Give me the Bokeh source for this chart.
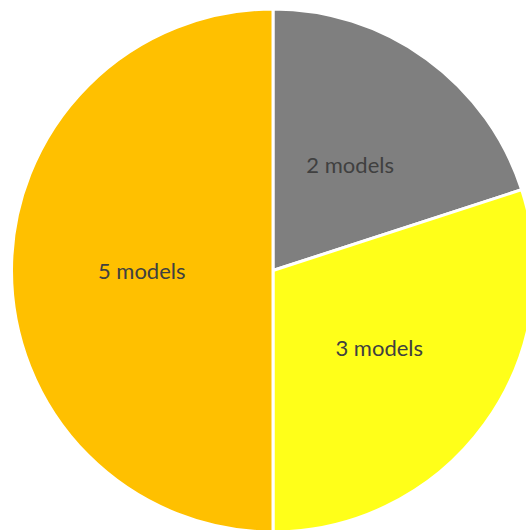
import math
from bokeh.plotting import figure
from bokeh.models import ColumnDataSource, Range1d
from bokeh.core.properties import value
from bokeh.embed import file_html
from bokeh.resources import INLINE

labels = ["2 models", "3 models", "5 models"]
counts = [2, 3, 5]
colors = ["#7F7F7F", "#FFFF19", "#FFC000"]

W, H = 526, 530
cx, cy = 272.5, H - 270
R = 261.5

total = sum(counts)
starts, ends, lx, ly = [], [], [], []
a = math.pi / 2
for c in counts:
    span = 2 * math.pi * c / total
    s, e = a, a - span
    starts.append(s)
    ends.append(e)
    mid = (s + e) / 2
    lx.append(cx + 0.505 * 260 * math.cos(mid))
    ly.append(cy + 0.505 * 260 * math.sin(mid))
    a = e

src = ColumnDataSource(dict(start=starts, end=ends, color=colors,
                            label=labels, lx=lx, ly=ly))

p = figure(width=W, height=H, output_backend="svg", toolbar_location=None,
           x_range=Range1d(0, W), y_range=Range1d(0, H), min_border=0)
p.axis.visible = False
p.grid.visible = False
p.outline_line_color = None
p.background_fill_color = "white"

p.wedge(x=cx, y=cy, radius=R, start_angle="start", end_angle="end",
        direction="clock", fill_color="color", line_color="white",
        line_width=3, source=src)
p.text(x="lx", y="ly", text="label", source=src, text_align="center",
       text_baseline="middle", text_font=value("Lato"),
       text_font_size="22px", text_color="#404040")

open("out.html", "w").write(file_html(p, INLINE))
